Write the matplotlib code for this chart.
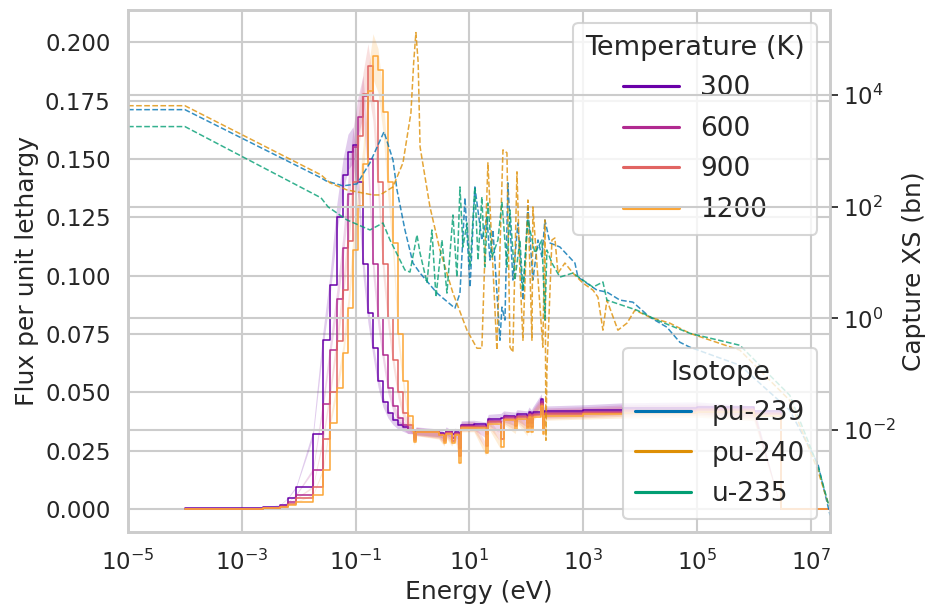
import matplotlib
matplotlib.use('Agg')
import matplotlib.pyplot as plt
import numpy as np
import seaborn as sns
from matplotlib.lines import Line2D
from matplotlib.ticker import (MultipleLocator, FormatStrFormatter, FixedLocator,
                               LogLocator, LogFormatterSciNotation, NullLocator)

# group left edges (eV) and flux per unit lethargy for each temperature
flux_E = [1.0e-4, 2.36e-3, 4.69e-3, 6.48e-3, 8.97e-3, 1.78e-2, 2.67e-2, 3.55e-2, 4.71e-2,
          6.01e-2, 7.35e-2, 9.0e-2, 0.110, 0.135, 0.165, 0.202, 0.248, 0.303, 0.371, 0.454,
          0.556, 0.681, 0.834,
          1.02, 1.08, 1.16, 2.9, 3.6, 3.9, 4.9, 5.7, 6.6, 7.2, 12, 19.5, 21.5, 36, 40, 64, 69,
          104, 112, 123, 130, 185, 195, 205, 1e3, 5e3, 1e5, 1e6, 3e6, 2e7]
flux_300 = [0.0002, 0.0008, 0.0017, 0.0047, 0.0094, 0.032, 0.0725, 0.096, 0.125, 0.143, 0.153,
            0.156, 0.140, 0.105, 0.084, 0.069, 0.055, 0.046, 0.041, 0.038, 0.036, 0.035, 0.034,
            0.0340, 0.0315, 0.0335, 0.0326, 0.0315, 0.0335, 0.0320, 0.0330, 0.0300, 0.0360,
            0.0362, 0.0355, 0.0386, 0.0390, 0.0400, 0.0395, 0.0405, 0.0400, 0.0416, 0.0405,
            0.0416, 0.0470, 0.0400, 0.0420, 0.0425, 0.0433, 0.0437, 0.0420, 0.0, 0.0]
flux_600 = [0.0001, 0.0005, 0.0011, 0.0030, 0.0060, 0.0167, 0.045, 0.068, 0.090, 0.112, 0.135,
            0.155, 0.168, 0.177, 0.150, 0.105, 0.082, 0.066, 0.052, 0.044, 0.039, 0.036, 0.034,
            0.0338, 0.0305, 0.0333, 0.0322, 0.0300, 0.0330, 0.0305, 0.0325, 0.0260, 0.0355,
            0.0357, 0.0320, 0.0378, 0.0340, 0.0393, 0.0375, 0.0398, 0.0370, 0.0408, 0.0370,
            0.0408, 0.0460, 0.0360, 0.0412, 0.0417, 0.0425, 0.0429, 0.0412, 0.0, 0.0]
flux_900 = [0.0001, 0.0004, 0.0009, 0.0022, 0.0045, 0.0094, 0.030, 0.050, 0.072, 0.094, 0.115,
            0.140, 0.160, 0.178, 0.190, 0.175, 0.140, 0.105, 0.082, 0.064, 0.050, 0.041, 0.036,
            0.0336, 0.0295, 0.0331, 0.0318, 0.0290, 0.0325, 0.0292, 0.0320, 0.0225, 0.0350,
            0.0352, 0.0270, 0.0372, 0.0300, 0.0387, 0.0355, 0.0392, 0.0350, 0.0402, 0.0350,
            0.0402, 0.0450, 0.0340, 0.0406, 0.0411, 0.0418, 0.0422, 0.0405, 0.0, 0.0]
flux_1200 = [0.0001, 0.0003, 0.0007, 0.0015, 0.0030, 0.0060, 0.0167, 0.037, 0.052, 0.067, 0.086,
             0.111, 0.130, 0.148, 0.179, 0.194, 0.188, 0.170, 0.140, 0.114, 0.075, 0.055, 0.040,
             0.0335, 0.0288, 0.0330, 0.0315, 0.0283, 0.0320, 0.0283, 0.0315, 0.0197, 0.0347,
             0.0348, 0.0240, 0.0366, 0.0266, 0.0380, 0.0340, 0.0385, 0.0330, 0.0395, 0.0330,
             0.0396, 0.0440, 0.0320, 0.0400, 0.0405, 0.0410, 0.0414, 0.0398, 0.0, 0.0]

temps = ['300', '600', '900', '1200']

# capture cross sections (bn)
pu239_E = [1e-5, 1e-4, 0.0247, 0.0302, 0.0601, 0.106, 0.179, 0.316, 0.454, 0.535, 0.738, 1.02,
           1.36, 2.70, 5.58, 6.84, 8.38, 10.3, 12.5, 16.6, 20.4, 23.0, 26.0, 34.5, 37.4, 42.3,
           47.6, 58.3, 71.4, 87.5, 107, 131, 161, 189, 213, 261, 391, 718, 811, 1750, 2620,
           4440, 7500, 1.49e4, 2.97e4, 5.02e4, 7.53e4, 5.7e5, 4.3e6, 1.34e7, 2.2e7]
pu239_xs = [5400, 5400, 326, 288, 234, 254, 604, 2170, 684, 198, 38.1, 9.75, 6.46, 2.83, 1.52,
            2.83, 143, 3.62, 224, 25.2, 65.2, 11.0, 38.1, 0.406, 1.59, 0.93, 265, 4.84, 50.8,
            2.12, 98.4, 4.84, 25.2, 12.5, 57.5, 22.3, 18.9, 9.75, 5.47, 3.20, 2.95, 2.12, 1.95,
            1.05, 0.695, 0.374, 0.305, 0.145, 0.0226, 2.5e-3, 3e-4]
pu240_E = [1e-5, 1e-4, 0.0247, 0.0355, 0.0706, 0.202, 0.269, 0.454, 0.681, 0.94, 1.05, 1.15,
           1.26, 1.36, 2.03, 3.04, 5.15, 9.08, 13.6, 16.6, 21.2, 30.5, 39.0, 45.8, 51.8, 58.3,
           68.7, 77.5, 87.5, 107, 126, 131, 196, 213, 222, 231, 283, 319, 361, 479, 662, 991,
           1490, 1820, 2230, 2620, 4090, 5890, 8130, 1.49e4, 3.35e4, 7.53e4, 5.7e5, 4.3e6,
           1.34e7, 2.1e7]
pu240_xs = [6350, 6350, 368, 265, 198, 161, 161, 224, 604, 4750, 37400, 129000, 37400, 1170,
            98.4, 16.7, 2.83, 0.615, 0.292, 0.292, 604, 0.27, 1030, 914, 0.305, 0.248, 417,
            6.46, 0.406, 131, 0.406, 98.4, 0.305, 57.5, 6.6e-3, 0.118, 25.2, 27.4, 6.46, 9.75,
            6.46, 4.28, 3.20, 2.40, 0.615, 2.12, 0.615, 0.82, 1.40, 1.05, 0.82, 0.54, 0.27,
            0.034, 1.9e-3, 4.4e-4]
u235_E = [1e-5, 1e-4, 0.0247, 0.0329, 0.0706, 0.179, 0.303, 0.403, 0.738, 0.904, 1.20, 1.36,
          1.80, 2.20, 2.59, 3.30, 4.04, 5.15, 6.05, 6.84, 7.73, 9.08, 10.3, 12.5, 14.2, 16.6,
          18.8, 21.2, 25.0, 31.8, 37.4, 45.8, 51.8, 63.2, 77.5, 87.5, 107, 142, 189, 213, 231,
          283, 391, 662, 991, 1490, 2230, 2620, 8830, 1.98e4, 7.53e4, 5.7e5, 4.3e6, 1.34e7,
          2.1e7]
u235_xs = [2690, 2690, 143, 98.4, 57.5, 38.1, 50.8, 25.2, 7.31, 6.73, 31.0, 14.7, 4.28, 38.1,
           2.40, 25.2, 2.83, 70.6, 5.47, 224, 18.9, 50.8, 8.28, 224, 11.0, 149, 8.28, 116, 12.5,
           25.2, 121, 8.28, 86.9, 4.84, 25.2, 3.20, 57.5, 14.7, 25.2, 0.93, 16.7, 9.75, 5.47,
           6.46, 4.84, 3.62, 4.47, 2.12, 1.40, 0.93, 0.54, 0.33, 0.042, 2.3e-3, 4.4e-4]

isotopes = ['pu-239', 'pu-240', 'u-235']
x_ticks = [1e-5, 1e-3, 1e-1, 1e1, 1e3, 1e5, 1e7]

sns.set_theme(context='talk', style='whitegrid')
plt.rcParams['font.family'] = ['DejaVu Sans']

temp_colors = sns.color_palette('plasma', 4)
iso_colors = sns.color_palette('colorblind', 3)

fig, ax1 = plt.subplots(figsize=(9.38, 6.11), dpi=100)
fig.subplots_adjust(left=0.1365, right=0.885, bottom=0.129, top=0.984)

fluxes = [flux_300, flux_600, flux_900, flux_1200]
for t, vals, c in zip(temps, fluxes, temp_colors):
    v = np.array(vals)
    ax1.fill_between(flux_E, v * 0.95, v * 1.05, color=c, alpha=0.2, lw=0)
    ax1.plot(flux_E, v, drawstyle='steps-post', color=c, lw=1.1)

ax1.set_xscale('log')
ax1.set_xlim(1e-5, 2.2e7)
ax1.set_ylim(-0.01, 0.214)
ax1.xaxis.set_major_locator(FixedLocator(x_ticks))
ax1.xaxis.set_minor_locator(NullLocator())
ax1.yaxis.set_major_locator(MultipleLocator(0.025))
ax1.yaxis.set_major_formatter(FormatStrFormatter('%.3f'))
ax1.xaxis.get_offset_text().set_visible(False)
ax1.set_xlabel('Energy (eV)')
ax1.set_ylabel('Flux per unit lethargy')

ax2 = ax1.twinx()
ax1.tick_params(left=False, bottom=False)
xs_data = [(pu239_E, pu239_xs), (pu240_E, pu240_xs), (u235_E, u235_xs)]
for (e, s), c in zip(xs_data, iso_colors):
    ax2.plot(e, s, ls='--', color=c, lw=1.1, alpha=0.8)
ax2.set_yscale('log')
ax2.set_ylim(1.5e-4, 3.3e5)
ax2.yaxis.set_major_locator(LogLocator(base=100))
ax2.yaxis.set_major_formatter(LogFormatterSciNotation())
ax2.yaxis.set_minor_locator(NullLocator())
ax2.tick_params(axis='y', right=True, length=6, width=1.25, color='0.15')
ax2.set_ylabel('Capture XS (bn)')
for sp in ax2.spines.values():
    sp.set_color('0.8')

leg_kw = dict(fontsize=19, title_fontsize=19.5, handlelength=2.1, handletextpad=0.8,
              labelspacing=0.55, borderpad=0.45)
temp_handles = [Line2D([], [], color=c, lw=2.25) for c in temp_colors]
ax1.legend(temp_handles, temps, title='Temperature (K)', loc='upper right', **leg_kw)
iso_handles = [Line2D([], [], color=c, lw=2.25) for c in iso_colors]
ax2.legend(iso_handles, isotopes, title='Isotope', loc='lower right', **leg_kw)

fig.savefig('out.png', dpi=100)
